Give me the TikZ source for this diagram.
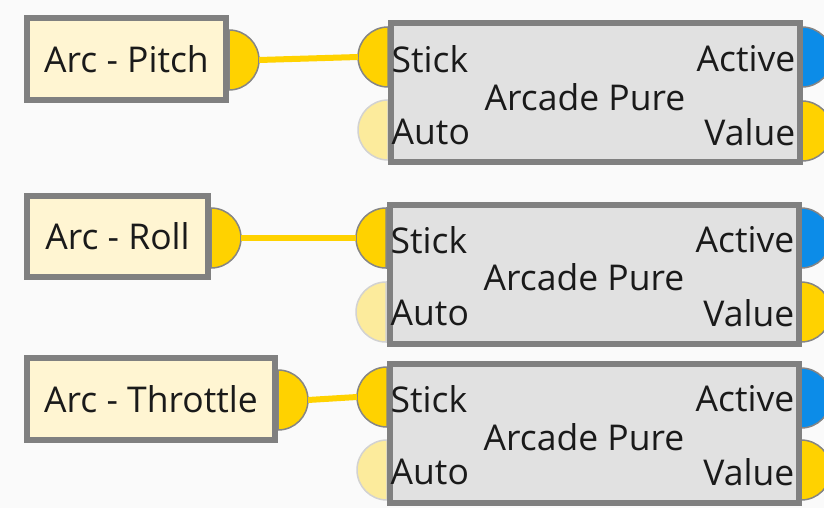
\documentclass[tikz,border=0pt]{standalone}
\usepackage{fontspec}
\setmainfont{Open Sans}
\usetikzlibrary{calc}
\definecolor{bg}{HTML}{FAFAFA}
\definecolor{boxgray}{HTML}{808080}
\definecolor{srcfill}{HTML}{FFF5D2}
\definecolor{blkfill}{HTML}{E1E1E1}
\definecolor{txt}{HTML}{1A1A1A}
\definecolor{wireyel}{HTML}{FFD200}
\definecolor{portyel}{HTML}{FFD200}
\definecolor{portpale}{HTML}{FCEB9C}
\definecolor{portblue}{HTML}{0C8CE8}
\definecolor{portedge}{HTML}{858585}
\definecolor{paleedge}{HTML}{D2D2D2}
\newcommand\rport[4]{%
  \path[#4] (#2,#3) ++(0,-30) arc[start angle=-90,end angle=90,radius=30] -- cycle;
  \coordinate (#1) at (#2+30,#3);}
\newcommand\lport[4]{%
  \path[#4] (#2,#3) ++(0,30) arc[start angle=90,end angle=270,radius=30] -- cycle;
  \coordinate (#1) at (#2-30,#3);}
\begin{document}
\begin{tikzpicture}[x=1pt,y=-1pt,
  srcbox/.style={draw=boxgray, line width=6pt, fill=srcfill, inner sep=0pt,
    font=\fontsize{35.5}{40}\selectfont, text=txt},
  blkbox/.style={draw=boxgray, line width=6pt, fill=blkfill, inner sep=0pt,
    minimum width=409pt, minimum height=139pt},
  lbl/.style={inner sep=0pt, font=\fontsize{35.5}{40}\selectfont, text=txt},
  wire/.style={draw=wireyel, line width=6pt},
  portY/.style={fill=portyel, draw=portedge, line width=1.5pt},
  portP/.style={fill=portpale, draw=paleedge, line width=1.5pt},
  portB/.style={fill=portblue, draw=portedge, line width=1.5pt}]
\useasboundingbox (0,0) rectangle (824,508);
\clip (0,0) rectangle (824,508);
\fill[bg] (0,0) rectangle (824,508);

% ---- ports of source boxes
\rport{p1out}{229}{60}{portY}
\rport{p2out}{211}{238}{portY}
\rport{p3out}{278}{400}{portY}

% ---- ports of blocks
\lport{b1stick}{388}{57}{portY}
\lport{b1auto}{388}{130}{portP}
\rport{b1active}{802}{57}{portB}
\rport{b1value}{802}{131}{portY}

\lport{b2stick}{386}{238}{portY}
\lport{b2auto}{386}{312}{portP}
\rport{b2active}{801}{238}{portB}
\rport{b2value}{801}{312}{portY}

\lport{b3stick}{387}{397}{portY}
\lport{b3auto}{387}{470}{portP}
\rport{b3active}{801}{398}{portB}
\rport{b3value}{801}{470}{portY}

% ---- source boxes
\node[srcbox, minimum width=199pt, minimum height=82pt] (src1) at (126.5,59) {Arc - Pitch};
\node[srcbox, minimum width=181pt, minimum height=81pt] (src2) at (117.5,236.5) {Arc - Roll};
\node[srcbox, minimum width=248pt, minimum height=82pt] (src3) at (151,399) {Arc - Throttle};

% ---- blocks
\node[blkbox] (blk1) at (595,92.5) {};
\node[blkbox] (blk2) at (594,274.5) {};
\node[blkbox] (blk3) at (594,433.5) {};

\foreach \b/\ys/\ya/\yc in {1/59/132/97, 2/240/313/277, 3/399/472/437}{
  \node[lbl, anchor=west] (blk\b stick) at ([xshift=4pt]blk\b.west |- 0,\ys) {Stick};
  \node[lbl, anchor=west] (blk\b auto) at ([xshift=4pt]blk\b.west |- 0,\ya) {Auto};
  \node[lbl, anchor=east] (blk\b active) at ([xshift=-7pt]blk\b.east |- 0,\ys) {Active};
  \node[lbl, anchor=east] (blk\b value) at ([xshift=-7pt]blk\b.east |- 0,\ya) {Value};
  \node[lbl] (blk\b title) at ([xshift=-10pt]blk\b.center |- 0,\yc) {Arcade Pure};
}

% ---- wires
\draw[wire] (p1out) -- (b1stick);
\draw[wire] (p2out) -- (b2stick);
\draw[wire] (p3out) -- (b3stick);
\end{tikzpicture}
\end{document}
